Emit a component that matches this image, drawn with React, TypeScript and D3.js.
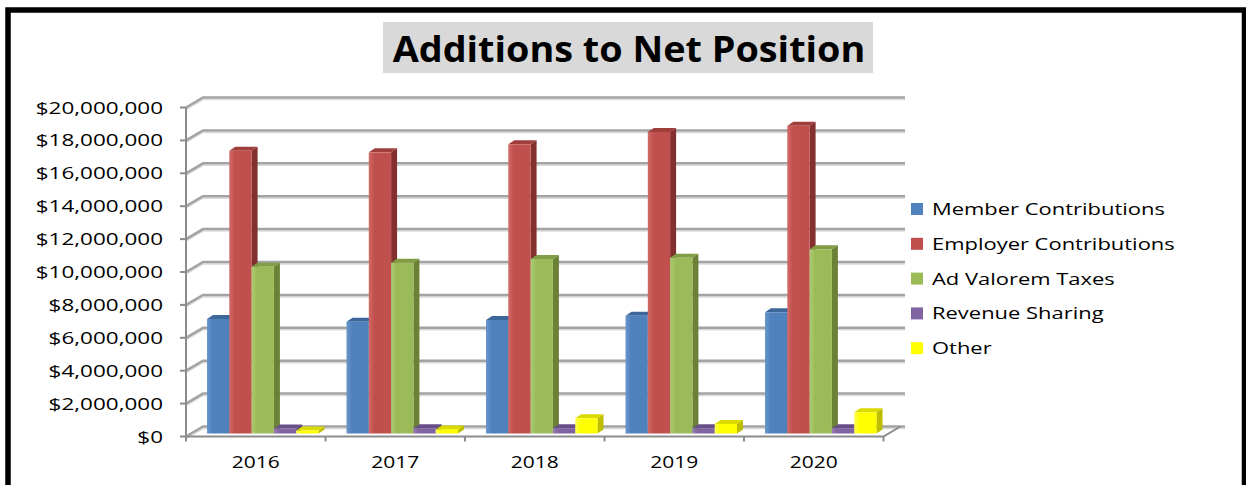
import React from 'react';
import * as d3 from 'd3';

const years = ['2016', '2017', '2018', '2019', '2020'];
const seriesNames = ['Member Contributions', 'Employer Contributions', 'Ad Valorem Taxes', 'Revenue Sharing', 'Other'];
const memberContributions = [6.96e6, 6.8e6, 6.9e6, 7.16e6, 7.37e6];
const employerContributions = [17.19e6, 17.09e6, 17.58e6, 18.33e6, 18.71e6];
const adValoremTaxes = [10.14e6, 10.38e6, 10.61e6, 10.69e6, 11.2e6];
const revenueSharing = [0.3e6, 0.32e6, 0.32e6, 0.32e6, 0.32e6];
const other = [0.18e6, 0.25e6, 0.92e6, 0.58e6, 1.29e6];
const yTicks = [0, 2e6, 4e6, 6e6, 8e6, 10e6, 12e6, 14e6, 16e6, 18e6, 20e6];
const title = 'Additions to Net Position';

const seriesValues = [memberContributions, employerContributions, adValoremTaxes, revenueSharing, other];
const faceColors = [
  { front: '#4F81BD', light: '#6A97CC', top: '#3D679A', side: '#365C8A' },
  { front: '#C0504D', light: '#D26A67', top: '#A03E3B', side: '#83302E' },
  { front: '#9BBB59', light: '#AECB73', top: '#809C45', side: '#6A8136' },
  { front: '#8064A2', light: '#957CB4', top: '#684F88', side: '#594373' },
  { front: '#FFFF00', light: '#FFFF55', top: '#DADA00', side: '#BDBD00' },
];

const W = 1246;
const H = 485;
const axisX = 186;
const axisRight = 883.5;
const y0 = 436.5;
const yTop = 107.5;
const DX = 17;
const DY = -10;
const OX = 7;
const OY = -3;
const BDX = 6;
const BDY = -4;
const backRight = 905;
const groupW = 111.5;

const fontFam = "'Open Sans', 'DejaVu Sans', sans-serif";

function SText(props: any) {
  const { x, y, k, anchor, size, weight, children } = props;
  return (
    <text
      transform={`translate(${x},${y}) scale(${k},1)`}
      textAnchor={anchor || 'start'}
      fontFamily={fontFam}
      fontSize={size}
      fontWeight={weight || 'normal'}
      fill="#000"
    >
      {children}
    </text>
  );
}

export default function App() {
  const y = d3.scaleLinear().domain([0, 20e6]).range([y0, yTop]);
  const x = d3.scaleBand().domain(years).range([axisX, axisRight]).padding(0);
  const inner = d3.scaleBand().domain(seriesNames).range([0, groupW]).padding(0);
  const fmt = (v: number) => '$' + d3.format(',')(v);

  const bars: any[] = [];
  years.forEach((yr, i) => {
    seriesNames.forEach((s, j) => {
      const v = seriesValues[j][i];
      const left = (x(yr) as number) + (x.bandwidth() - groupW) / 2 + OX + (inner(s) as number);
      const w = inner.bandwidth();
      const top = y(v) + OY;
      const bottom = y(0) + OY;
      const c = faceColors[j];
      bars.push(
        <g key={yr + s}>
          <polygon
            points={`${left + w},${top} ${left + w + BDX},${top + BDY} ${left + w + BDX},${bottom + BDY} ${left + w},${bottom}`}
            fill={c.side}
          />
          <polygon
            points={`${left},${top} ${left + BDX},${top + BDY} ${left + w + BDX},${top + BDY} ${left + w},${top}`}
            fill={c.top}
          />
          <rect x={left} y={top} width={w} height={bottom - top} fill={`url(#grad${j})`} />
        </g>
      );
    });
  });

  const boundaries = d3.range(0, years.length + 1).map((k) => axisX + k * x.bandwidth());

  return (
    <svg width={W} height={H} style={{ position: 'absolute', left: 0, top: 0, background: '#fff' }}>
      <defs>
        {faceColors.map((c, j) => (
          <linearGradient key={j} id={`grad${j}`} x1="0" x2="1" y1="0" y2="0">
            <stop offset="0" stopColor={c.light} />
            <stop offset="0.25" stopColor={c.front} />
            <stop offset="1" stopColor={c.front} />
          </linearGradient>
        ))}
      </defs>
      <rect x={0} y={0} width={W} height={H} fill="#fff" />

      {/* title */}
      <rect x={383} y={22} width={490} height={51} fill="#D9D9D9" />
      <SText x={629} y={62} k={1.08} anchor="middle" size={35} weight="bold">
        {title}
      </SText>

      {/* gridlines (back wall + left wall) */}
      {yTicks.map((t) => (
        <path
          key={'s' + t}
          d={`M${axisX},${y(t) + 2} L${axisX + DX},${y(t) + DY + 2} L${backRight},${y(t) + DY + 2}`}
          fill="none"
          stroke="#DADADA"
          strokeWidth={1.5}
        />
      ))}
      {yTicks.map((t) => (
        <path
          key={'g' + t}
          d={`M${axisX},${y(t)} L${axisX + DX},${y(t) + DY} L${backRight},${y(t) + DY}`}
          fill="none"
          stroke="#A3A3A3"
          strokeWidth={2.5}
        />
      ))}

      {/* y axis */}
      <path d={`M${axisX},${yTop} L${axisX},${y0}`} stroke="#8C8C8C" strokeWidth={2} fill="none" />
      {yTicks.map((t) => (
        <path key={'t' + t} d={`M${axisX - 6},${y(t)} L${axisX},${y(t)}`} stroke="#8C8C8C" strokeWidth={2} />
      ))}
      {yTicks.map((t) => (
        <SText key={'l' + t} x={163} y={y(t) + 6} k={1.45} anchor="end" size={15.5}>
          {fmt(t)}
        </SText>
      ))}

      {/* floor */}
      <path
        d={`M${axisX},${y0} L${axisRight},${y0} L${axisRight + DX},${y0 + DY}`}
        stroke="#8C8C8C"
        strokeWidth={2}
        fill="none"
      />
      {boundaries.map((b, k) => (
        <path key={'b' + k} d={`M${b},${y0} L${b},${y0 + 5}`} stroke="#8C8C8C" strokeWidth={2} />
      ))}

      {/* bars */}
      {bars}

      {/* category labels */}
      {years.map((yr) => (
        <SText key={'c' + yr} x={(x(yr) as number) + x.bandwidth() / 2} y={468} k={1.31} anchor="middle" size={16}>
          {yr}
        </SText>
      ))}

      {/* legend */}
      {seriesNames.map((s, j) => (
        <g key={'lg' + s}>
          <rect x={911} y={203 + j * 34.8} width={12} height={12} fill={faceColors[j].front} />
          <SText x={932} y={215 + j * 34.8} k={1.33} size={16.5}>
            {s}
          </SText>
        </g>
      ))}

      {/* frame */}
      <rect x={8} y={10} width={1236.5} height={600} fill="none" stroke="#000" strokeWidth={5.5} />
    </svg>
  );
}
